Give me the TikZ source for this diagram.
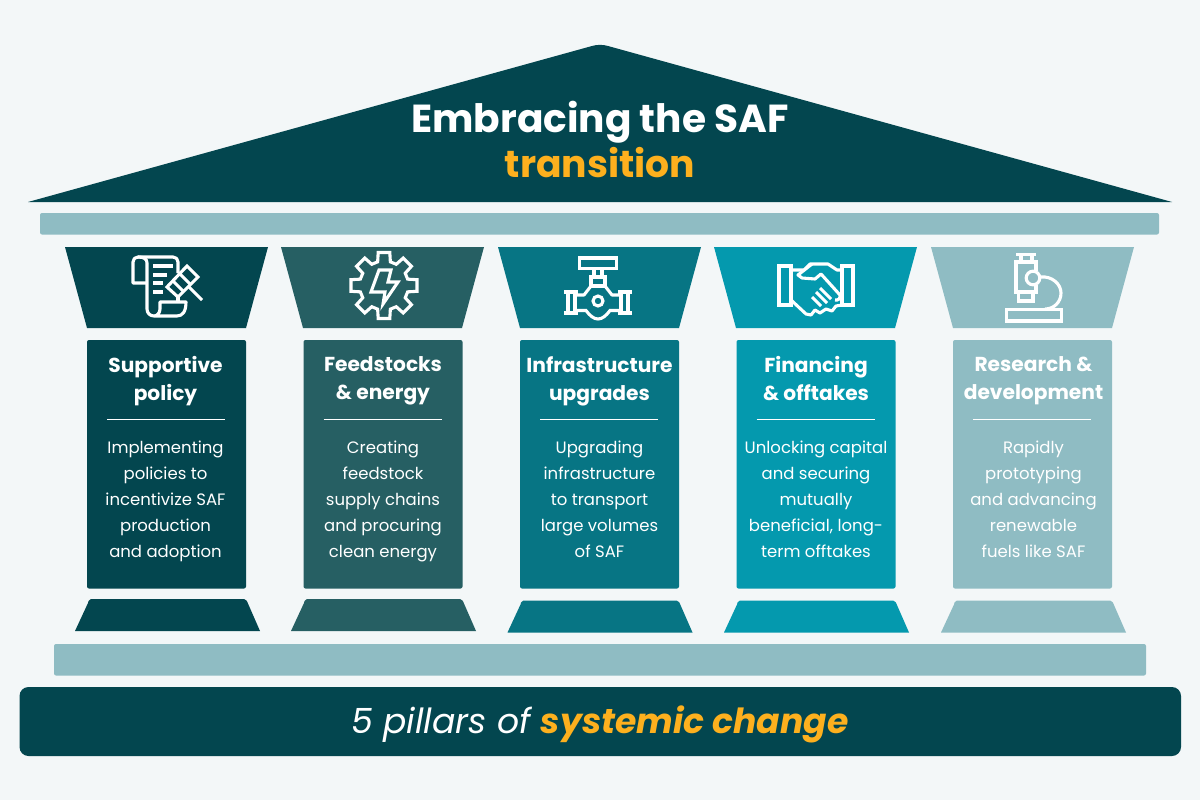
\documentclass[tikz,border=0pt]{standalone}
\usepackage{fontspec}
\setmainfont{Poppins}
\usetikzlibrary{calc}
\definecolor{bgc}{HTML}{F3F7F8}
\definecolor{cA}{HTML}{03464F}
\definecolor{cB}{HTML}{265F63}
\definecolor{cC}{HTML}{077584}
\definecolor{cD}{HTML}{0499AE}
\definecolor{cE}{HTML}{8FBCC3}
\definecolor{orng}{HTML}{FDB01E}
\tikzset{
 icon/.style={draw=white,line width=3.1pt,line join=miter,fill=none},
 headtxt/.style={text=white,inner sep=0pt,font=\fontsize{20.2}{28}\selectfont\bfseries,align=center,anchor=north},
 bodytxt/.style={text=white,inner sep=0pt,font=\fontsize{16.5}{26}\selectfont,align=center,anchor=north},
 titletxt/.style={inner sep=0pt,font=\bfseries,anchor=base},
}
\newcommand{\pillar}[8]{%
 % #1 colour, #2 capital left, #3 shaft left, #4 base left, #5 base top, #6 heading, #7 body, #8 text centre
 \fill[#1] (#2,247) -- ++(203,0) -- ++(-22,81) -- ++(-159,0) -- cycle;
 \fill[#1,rounded corners=2pt] (#3,340) rectangle ++(159,248.5);
 \fill[#1] (#4,#5+32) -- ($(#4,#5+32)+(13,-28)$) [rounded corners=2pt] -- ($(#4,#5)+(14,0)$) -- ($(#4,#5)+(171,0)$) [sharp corners] -- ($(#4,#5)+(185,32)$) -- cycle;
 \node[headtxt] (h#3) at (#8,356) {\vphantom{Ag}#6};
 \draw[white,line width=0.7pt] (#3+20,419.5) -- (#3+138,419.5);
 \node[bodytxt] (b#3) at (#8,441) {\vphantom{Ag}#7};
}
\begin{document}
\begin{tikzpicture}[x=1pt,y=-1pt]
\useasboundingbox (0,0) rectangle (1200,800);
\fill[bgc] (0,0) rectangle (1200,800);
% roof
\fill[cA] (28,202) -- (592,46) .. controls (597,44.5) and (603,44.5) .. (608,46) -- (1172,202) -- cycle;
\node[titletxt,text=white] (title1) at (600,132.5) {\fontsize{39.1}{45}\selectfont Embracing the SAF};
\node[titletxt,text=orng] (title2) at (600,177.5) {\fontsize{37.7}{45}\selectfont transition};
\fill[cE,rounded corners=2pt] (40,213) rectangle (1159,234.5);
% pillars
\pillar{cA}{65}{87}{75}{599}{Supportive\\policy}{Implementing\\policies to\\incentivize SAF\\production\\and adoption}{165.5}
\pillar{cB}{281}{303.5}{291}{599}{Feedstocks\\\& energy}{Creating\\feedstock\\supply chains\\and procuring\\clean energy}{383}
\pillar{cC}{498}{520}{507.5}{600.5}{Infrastructure\\upgrades}{Upgrading\\infrastructure\\to transport\\large volumes\\of SAF}{599.5}
\pillar{cD}{714}{736.5}{724}{600.5}{Financing\\\& offtakes}{Unlocking capital\\and securing\\mutually\\beneficial, long-\\term offtakes}{816}
\pillar{cE}{931}{953}{941}{600.5}{Research \&\\development}{Rapidly\\prototyping\\and advancing\\renewable\\fuels like SAF}{1033.5}
% icon 1
\draw[icon,line join=round] (147,283) -- (133,283) -- (133,262) .. controls (133,259) and (135,257) .. (138,257) -- (173,257) .. controls (176,257) and (178,259) .. (178,262) -- (178,273);
\draw[icon,line join=round] (138,257) .. controls (144,257) and (147,259) .. (147,263) -- (147,309) .. controls (147,313) and (150,316) .. (154,316) -- (177,316) .. controls (183,316) and (186,311) .. (186,302) -- (160,302) -- (160,309) .. controls (160,313) and (157,316) .. (154,316);
\draw[icon] (178,295) -- (178,302);
\draw[icon] (153,266) -- (173,266) (153,275) -- (167,275) (153,283) -- (163,283) (153,292) -- (163,292);
\draw[icon] (167,287) -- (187,266) -- (198,277) -- (178,297) -- cycle;
\draw[icon] (173,281) -- (184,292) (180,274) -- (191,285);
\draw[icon] (189,287) -- (202,300);
% icon 2
\begin{scope}[shift={(384,285.5)}]
\draw[icon] (-100:33.5) \foreach \a in {-90,-45,...,225} { -- (\a-10:33.5) -- (\a+10:33.5) -- (\a+15:24.5) -- (\a+30:24.5) } -- cycle;
\end{scope}
\draw[icon] (379,270) -- (391,270) -- (388,282) -- (398,282) -- (383,304) -- (385,292) -- (371,292) -- cycle;
% icon 3
\draw[icon] (579.5,258) rectangle (616.5,268.5);
\draw[icon] (594,268.5) -- (594,277) (602,268.5) -- (602,277);
\draw[icon] (591,277) rectangle (605,286);
\draw[icon] (564,292) -- (578,292) (564,313) -- (578,313) (618,292) -- (632,292) (618,313) -- (632,313);
\draw[icon] (568,292) -- (568,313) (575,292) -- (575,313) (621,292) -- (621,313) (628,292) -- (628,313);
\draw[icon,line join=round] (575,295) -- (584,295) -- (591,286);
\draw[icon,line join=round] (621,295) -- (612,295) -- (605,286);
\draw[icon] (575,310.5) -- (586,310.5) .. controls (590,316) and (594,319) .. (598,319) .. controls (602,319) and (606,316) .. (610,310.5) -- (621,310.5);
\draw[icon] (598,301) circle (5);
% icon 4
\draw[icon] (779,266) rectangle (791,305);
\draw[icon] (842,266) rectangle (853,305);
\draw[icon,line join=round] (791,270) -- (804,270) -- (810,264) -- (828,264) -- (837,270) -- (842,270);
\draw[icon,line join=round] (812,264) -- (798,275) -- (802,278) -- (815,279) -- (821,274) -- (840,295) .. controls (841,298) and (838,301) .. (835,300);
\draw[icon,line join=round] (791,300) -- (806,314) -- (811,315) -- (815,310) -- (820,313) -- (826,309) -- (832,311) -- (836,306) -- (842,305);
\draw[icon] (812,297) -- (821,306) (816,292) -- (827,303) (820,288) -- (831,299);
% icon 5
\draw[icon] (1016,254.5) -- (1036,254.5);
\draw[icon] (1021,255) -- (1021,262) (1032,255) -- (1032,262);
\draw[icon] (1036,271) -- (1036,262) -- (1016,262) -- (1016,292) -- (1036,292) -- (1036,285);
\draw[icon] (1018.5,292) -- (1018.5,301) -- (1033,301) -- (1033,292);
\draw[icon] (1033,278) circle (6.8);
\draw[icon] (1041,277) .. controls (1052,276) and (1061,284) .. (1061,293) .. controls (1061,302) and (1054,309) .. (1045,309);
\draw[icon] (1006.5,309.5) rectangle (1061.5,321);
% base
\fill[cE,rounded corners=2pt] (54,644) rectangle (1146,675.5);
\fill[cA,rounded corners=9pt] (19.5,687) rectangle (1181,756);
\node[anchor=base,inner sep=0pt,font=\fontsize{34.6}{40}\selectfont\itshape,text=white] (caption) at (600,733.5) {5 pillars of {\bfseries\color{orng} systemic change}};
\end{tikzpicture}
\end{document}
